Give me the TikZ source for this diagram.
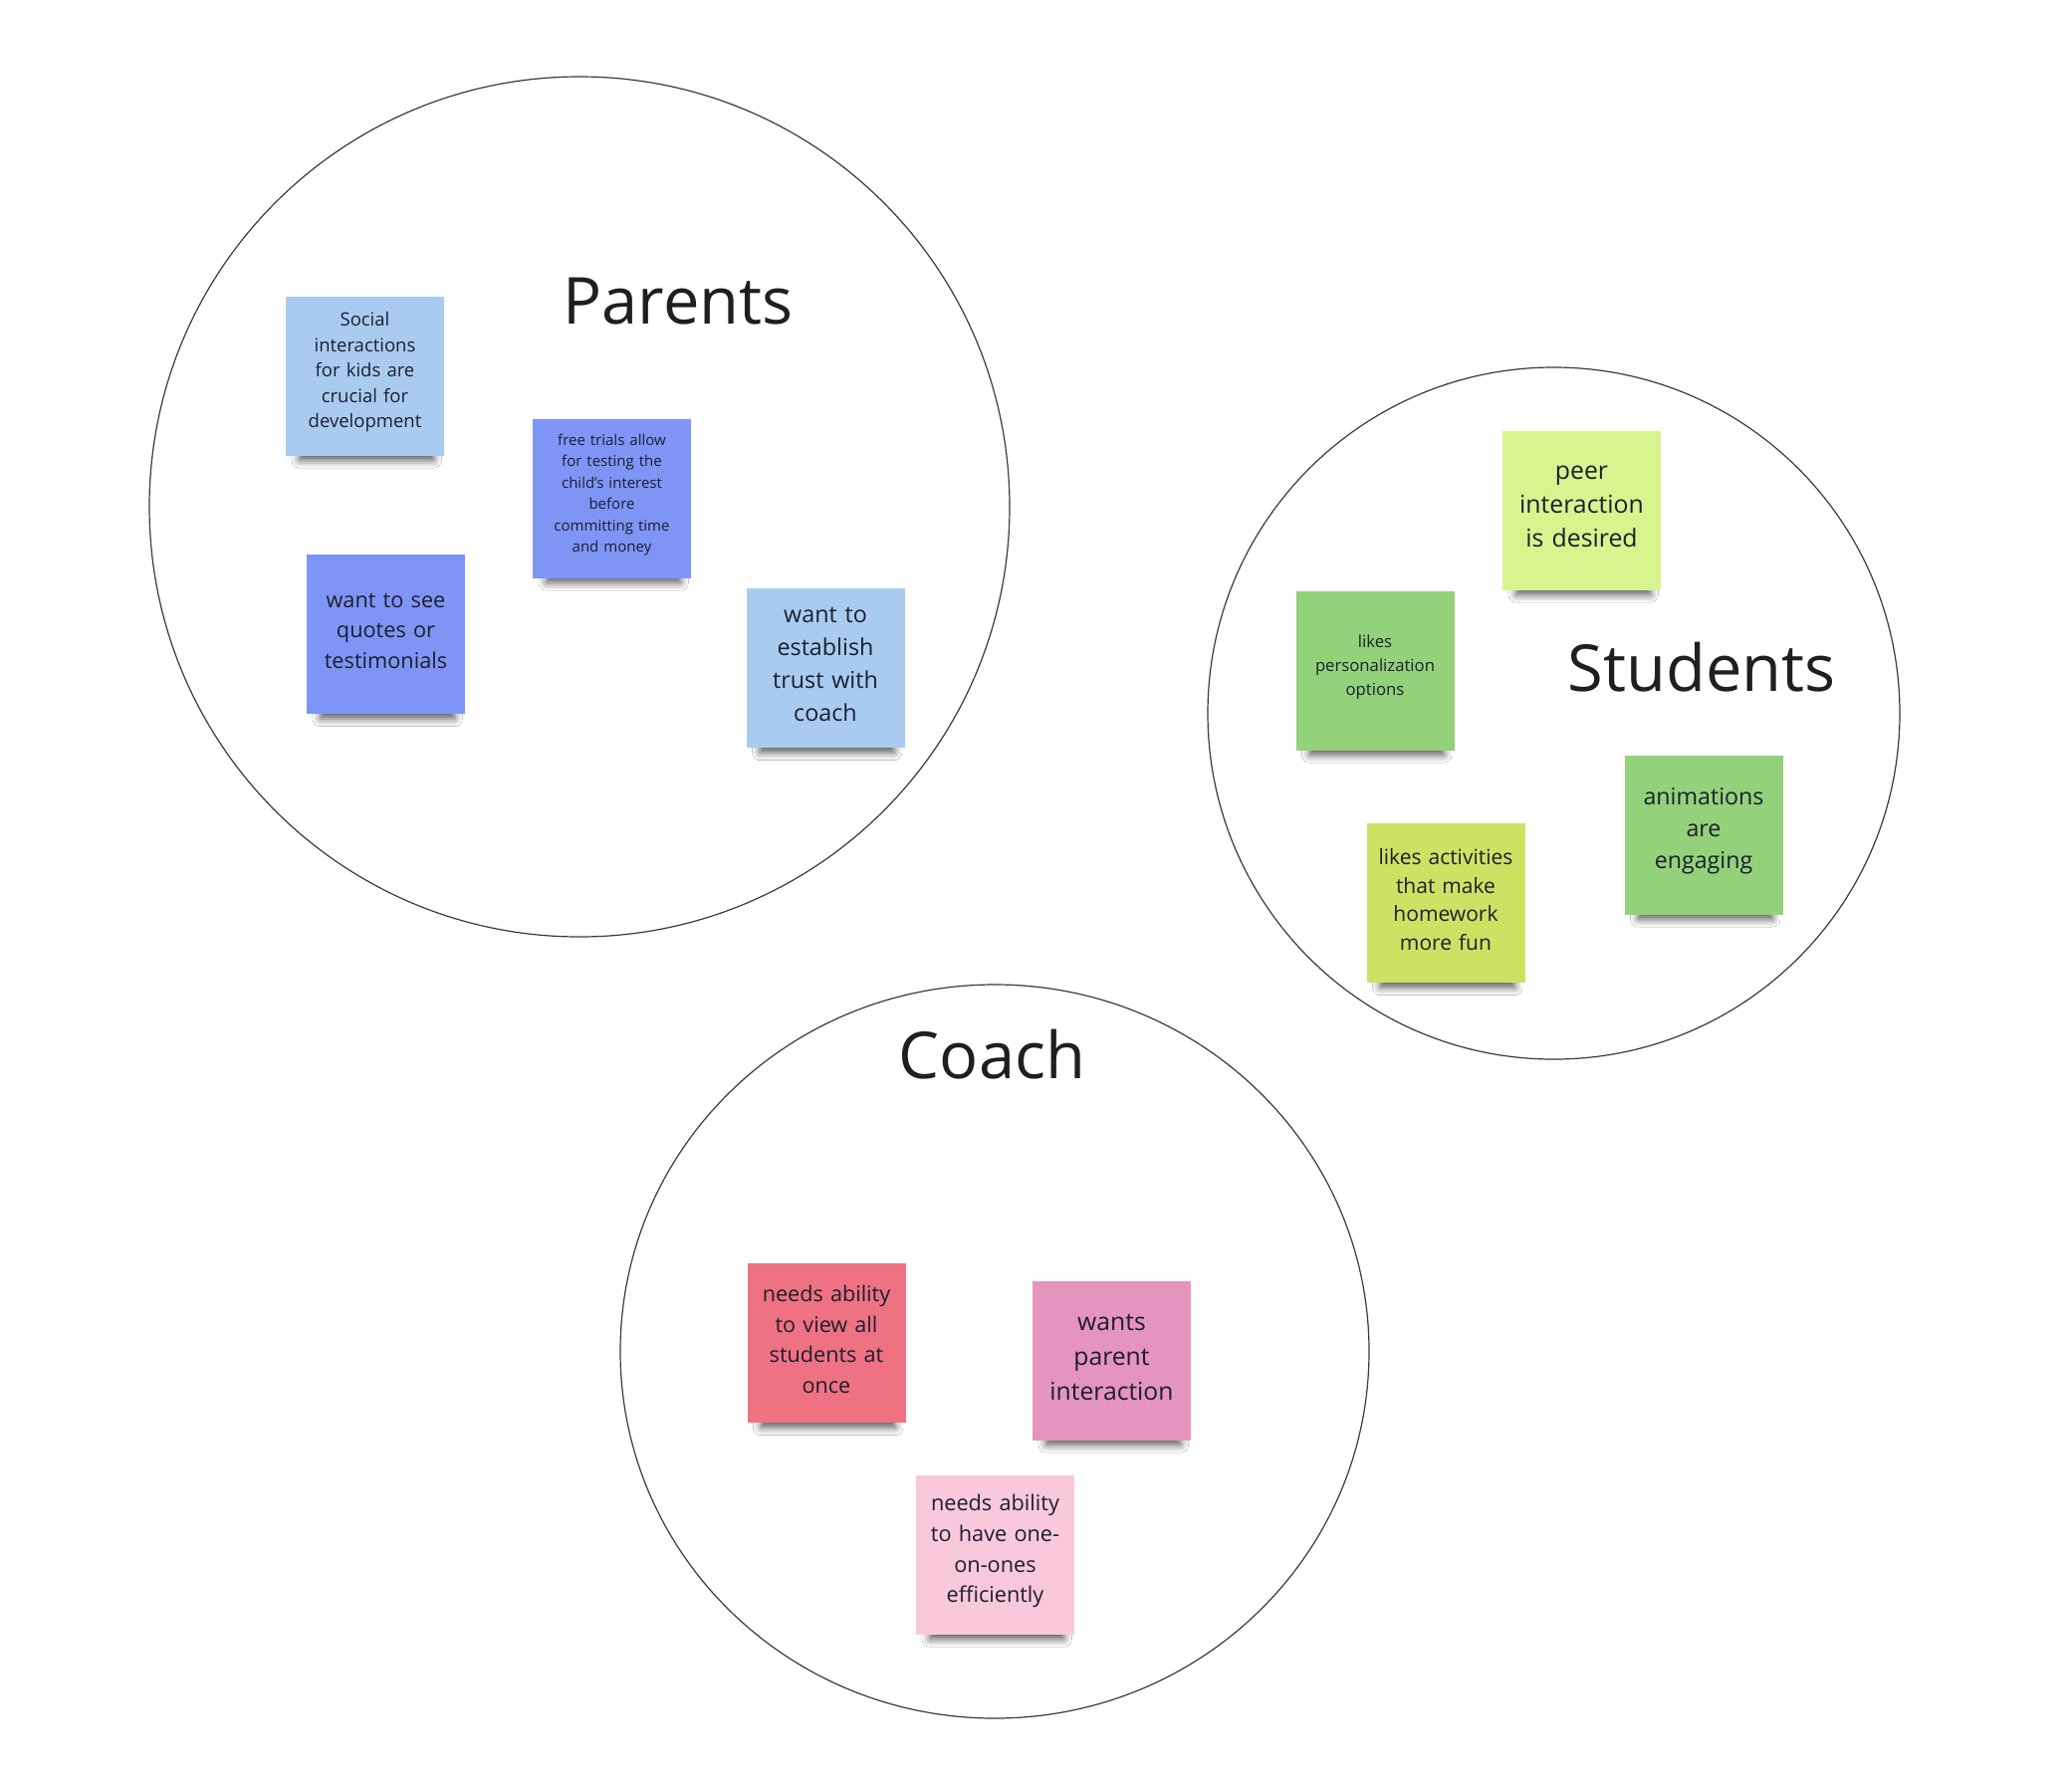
\documentclass[tikz,border=0pt]{standalone}
\usepackage{fontspec}
\setmainfont{Open Sans}
\usetikzlibrary{shadows.blur,shapes.geometric}
\definecolor{ink}{HTML}{1B1F2E}
\definecolor{ring}{HTML}{3A3A3A}
\definecolor{lblue}{HTML}{A9CBF0}
\definecolor{pblue}{HTML}{7F95F5}
\definecolor{lyellow}{HTML}{D8F48F}
\definecolor{mgreen}{HTML}{93D17B}
\definecolor{ygreen}{HTML}{CDE263}
\definecolor{rpink}{HTML}{EE7282}
\definecolor{mpink}{HTML}{E594BD}
\definecolor{lpink}{HTML}{F9C8DB}
\newcommand{\fs}[2]{\fontsize{#1}{#2}\selectfont}
\newcommand{\stickend}{\par\kern7pt}
\begin{document}
\begin{tikzpicture}[x=1pt,y=-1pt,
  sticky/.style={minimum width=159pt, minimum height=160pt, inner sep=0pt,
    align=center, text width=150pt, text=ink,
    execute at end node=\stickend,
    blur shadow={shadow xshift=2pt, shadow yshift=-20pt, shadow scale=0.85,
      shadow blur radius=9pt, shadow opacity=65}},
  title/.style={anchor=base, text=black!88, font=\fs{65}{70}},
  ringline/.style={draw=ring, line width=1.2pt}]
\useasboundingbox[fill=white] (0,0) rectangle (2081,1789);

% circles
\node[ringline, circle, minimum size=864pt, inner sep=0pt] (parents) at (582,509) {};
\node[ringline, circle, minimum size=695pt, inner sep=0pt] (students) at (1560.5,716.5) {};
\node[ringline, ellipse, minimum width=752pt, minimum height=737pt, inner sep=0pt] (coach) at (999,1357.5) {};

% titles
\node[title] (tparents) at (681,325) {Parents};
\node[title] (tstudents) at (1709,694) {Students};
\node[title] (tcoach) at (996.5,1083) {Coach};

% parents stickies
\node[sticky, fill=lblue, font=\fs{18.5}{25.5}] (s1) at (366.5,377.5)
  {Social\\interactions\\for kids are\\crucial for\\development};
\node[sticky, fill=pblue, font=\fs{15}{21.5}] (s2) at (614.5,500.5)
  {free trials allow\\for testing the\\child's interest\\before\\committing time\\and money};
\node[sticky, fill=pblue, font=\fs{21.7}{30.5}] (s3) at (387.5,637)
  {want to see\\quotes or\\testimonials};
\node[sticky, fill=lblue, font=\fs{23.3}{33}] (s4) at (829,671)
  {want to\\establish\\trust with\\coach};

% students stickies
\node[sticky, fill=lyellow, font=\fs{24.8}{34}] (s5) at (1588.5,512.5)
  {peer\\interaction\\is desired};
\node[sticky, fill=mgreen, font=\fs{16.7}{24}] (s6) at (1381,673.5)
  {likes\\personalization\\options};
\node[sticky, fill=mgreen, font=\fs{23.2}{32}] (s7) at (1711,838.5)
  {animations\\are\\engaging};
\node[sticky, fill=ygreen, font=\fs{21}{28.5}] (s8) at (1452,907)
  {likes activities\\that make\\homework\\more fun};

% coach stickies
\node[sticky, fill=rpink, font=\fs{21.6}{30.7}] (s9) at (830,1349)
  {needs ability\\to view all\\students at\\once};
\node[sticky, fill=mpink, font=\fs{24.7}{35}] (s10) at (1116.5,1366.5)
  {wants\\parent\\interaction};
\node[sticky, fill=lpink, font=\fs{21.7}{30.7}] (s11) at (999.5,1561.5)
  {needs ability\\to have one-\\on-ones\\efficiently};
\end{tikzpicture}
\end{document}
